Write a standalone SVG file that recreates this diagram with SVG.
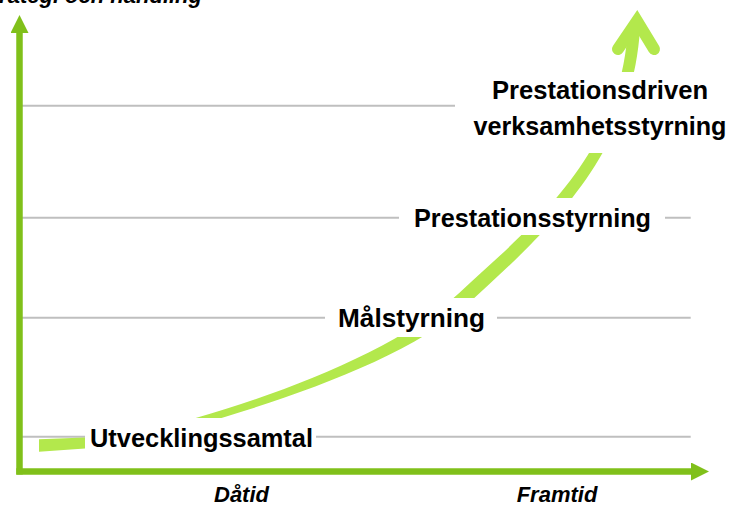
<svg xmlns="http://www.w3.org/2000/svg" width="729" height="505" viewBox="0 0 729 505">
<style>
.grid{stroke:#bfbfbf;stroke-width:2;fill:none}
.axis{stroke:#80c01a;stroke-width:6.5;fill:none}
.band{fill:#b3e84c;stroke:none}
.box{fill:#ffffff;stroke:none}
.lbl{font-family:"Liberation Sans",Arial,sans-serif;font-weight:bold;font-size:25.5px;fill:#000000}
.axl{font-family:"Liberation Sans",Arial,sans-serif;font-weight:bold;font-style:italic;font-size:22px;fill:#000000}
</style>
<defs>
<marker id="axhead" markerUnits="userSpaceOnUse" markerWidth="18" markerHeight="18" refX="0" refY="9" orient="auto">
<path d="M0,0 L18,9 L0,18 Z" fill="#80c01a"/>
</marker>
</defs>
<rect width="729" height="505" fill="#ffffff"/>
<g id="grid">
<line class="grid" x1="21" y1="105.7" x2="455" y2="105.7"/>
<line class="grid" x1="21" y1="217.7" x2="690.7" y2="217.7"/>
<line class="grid" x1="21" y1="317.7" x2="690.7" y2="317.7"/>
<line class="grid" x1="21" y1="436.7" x2="690.7" y2="436.7"/>
</g>
<g id="connectors">
<path class="band" d="M39,439.3 L85,437.5 L85,448.5 L39,451.7 Z"/>
<path class="band" d="M194,418.6 C290,390.9 400.5,347.3 459.2,292.9 C532.6,224.9 620.2,157.6 628,27.6 L640,28.4 C632.2,158.4 542.2,235.1 468.8,303.1 C410.1,357.5 292,397.7 196,425.4 Z"/>
<polyline points="618,49 637,21 654,49" fill="none" stroke="#b3e84c" stroke-width="12" stroke-linecap="round" stroke-linejoin="miter" stroke-miterlimit="10"/>
<line class="axis" x1="19.5" y1="474.5" x2="19.5" y2="33" marker-end="url(#axhead)"/>
<line class="axis" x1="16.3" y1="471.5" x2="691" y2="471.5" marker-end="url(#axhead)"/>
</g>
<g id="node-utvecklingssamtal">
<rect class="box" x="85" y="418" width="231" height="37"/>
<text class="lbl" x="90" y="446.7" textLength="223" lengthAdjust="spacingAndGlyphs">Utvecklingssamtal</text>
</g>
<g id="node-malstyrning">
<rect class="box" x="325" y="298" width="172" height="39"/>
<text class="lbl" x="338" y="326.7" textLength="147" lengthAdjust="spacingAndGlyphs">Målstyrning</text>
</g>
<g id="node-prestationsstyrning">
<rect class="box" x="399" y="198" width="266" height="37"/>
<text class="lbl" x="414" y="226.7" textLength="237" lengthAdjust="spacingAndGlyphs">Prestationsstyrning</text>
</g>
<g id="node-prestationsdriven">
<rect class="box" x="456" y="72" width="273" height="81"/>
<text class="lbl" x="600" y="99.3" text-anchor="middle" textLength="216" lengthAdjust="spacingAndGlyphs">Prestationsdriven</text>
<text class="lbl" x="600" y="135" text-anchor="middle" textLength="253" lengthAdjust="spacingAndGlyphs">verksamhetsstyrning</text>
</g>
<g id="axis-labels">
<text class="axl" x="202" y="3" text-anchor="end">Strategi och handling</text>
<text class="axl" x="241.5" y="502" text-anchor="middle">Dåtid</text>
<text class="axl" x="557" y="502" text-anchor="middle">Framtid</text>
</g>
</svg>
